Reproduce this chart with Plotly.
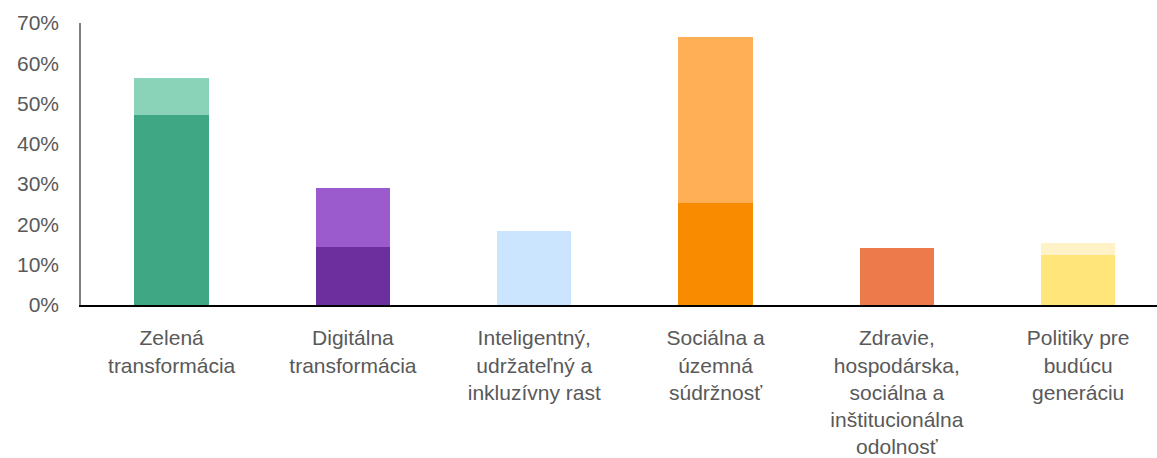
import plotly.graph_objects as go

# Categories (pillars) and shares
categories = [
    "Zelená<br>transformácia",
    "Digitálna<br>transformácia",
    "Inteligentný,<br>udržateľný a<br>inkluzívny rast",
    "Sociálna a<br>územná<br>súdržnosť",
    "Zdravie,<br>hospodárska,<br>sociálna a<br>inštitucionálna<br>odolnosť",
    "Politiky pre<br>budúcu<br>generáciu",
]
base_share = [47.1, 14.4, 18.4, 25.3, 14.1, 12.5]
extra_share = [9.2, 14.6, 0.0, 41.2, 0.0, 2.9]

base_colors = ["#40A784", "#6D2F9D", "#CCE5FF", "#F98B00", "#EC7A4A", "#FFE57A"]
extra_colors = ["#8AD3B8", "#9B5BCD", "#CCE5FF", "#FFB056", "#EC7A4A", "#FFF2C6"]

font_color = "#595959"

fig = go.Figure()
fig.add_trace(go.Bar(x=categories, y=base_share, marker_color=base_colors,
                     marker_line_width=0, width=0.41))
fig.add_trace(go.Bar(x=categories, y=extra_share, marker_color=extra_colors,
                     marker_line_width=0, width=0.41))

fig.update_layout(
    barmode="stack",
    width=1157, height=458,
    margin=dict(l=81, r=0, t=23, b=153),
    paper_bgcolor="white", plot_bgcolor="white",
    showlegend=False,
    font=dict(family="Liberation Sans, Arial, sans-serif", size=21, color=font_color),
)
fig.update_xaxes(
    range=[-0.5, 5.435], automargin=False,
    showline=True, linecolor="black", linewidth=2,
    showgrid=False, ticks="", tickangle=0,
    ticklabelstandoff=13,
)
fig.update_yaxes(
    range=[0, 70], dtick=10, ticksuffix="%", automargin=False,
    showline=True, linecolor="#7F7F7F", linewidth=1.5,
    showgrid=False, zeroline=False, ticks="",
    ticklabelstandoff=16,
)

# remove the default page margin so the chart sits at the window's top-left
fig.write_html("out.html", config={"displayModeBar": False},
               post_script="document.body.style.margin='0';")
